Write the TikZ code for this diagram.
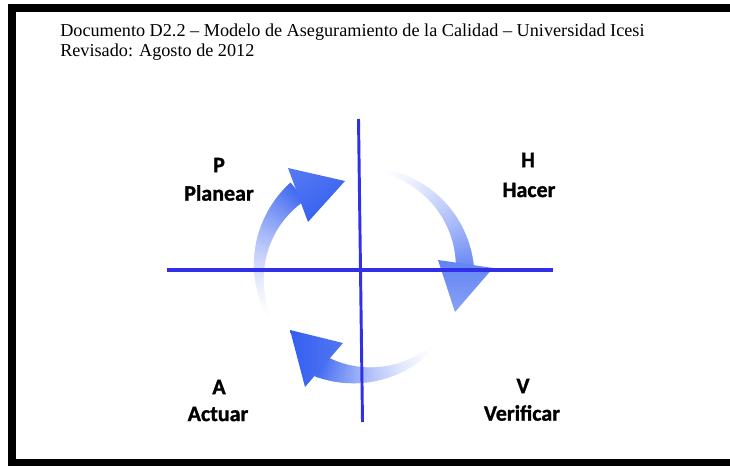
\documentclass[tikz,border=0pt]{standalone}
\usepackage{fontspec}
\setmainfont{Liberation Serif}
\newfontfamily\lblfont{Carlito}[BoldFeatures={FakeBold=1.2}]
\definecolor{arrowblue}{RGB}{52,95,240}
\definecolor{axisblue}{RGB}{48,48,232}
\newcommand\ringband[6]{%
  \foreach \rbI in {0,...,59}{%
    \pgfmathsetmacro\rbT{\rbI/60}%
    \pgfmathsetmacro\rbU{(\rbI+1)/60}%
    \pgfmathsetmacro\rbA{#1+\rbT*(#2-#1)}%
    \pgfmathsetmacro\rbB{#1+\rbU*(#2-#1)+0.4}%
    \pgfmathsetmacro\rbWa{#3+(#4-#3)*\rbT}%
    \pgfmathsetmacro\rbWb{#3+(#4-#3)*\rbU}%
    \pgfmathtruncatemacro\rbP{#5*\rbT*\rbT^(#6-1)+0.001}%
    \fill[arrowblue!\rbP!white]
      ({362+(103+\rbWa/2)*cos(\rbA)},{272+(103+\rbWa/2)*sin(\rbA)}) --
      ({362+(103+\rbWb/2)*cos(\rbB)},{272+(103+\rbWb/2)*sin(\rbB)}) --
      ({362+(103-\rbWb/2)*cos(\rbB)},{272+(103-\rbWb/2)*sin(\rbB)}) --
      ({362+(103-\rbWa/2)*cos(\rbA)},{272+(103-\rbWa/2)*sin(\rbA)}) -- cycle;
  }%
}
\begin{document}
\begin{tikzpicture}[x=0.75pt,y=-0.75pt,
  hdr/.style={font=\fontsize{13.65pt}{15pt}\selectfont, anchor=base west, inner sep=0pt},
  lbl/.style={font=\lblfont\bfseries\fontsize{16.5pt}{18pt}\selectfont, inner sep=0pt},
  axis/.style={draw=axisblue, line width=2.4pt}]
\useasboundingbox (0,0) rectangle (730,466);
\fill[white] (0,0) rectangle (730,466);
% frame
\fill[black] (8,4) rectangle (730,12.5);
\fill[black] (8,4) rectangle (16,466);
\fill[black] (8,459) rectangle (730,466);
% header
\node[hdr] (h1) at (60,37) {Documento D2.2 -- Modelo de Aseguramiento de la Calidad -- Universidad Icesi};
\node[hdr] (h2) at (60,56.5) {Revisado: Agosto de 2012};
% arrows (bodies)
\ringband{150}{231}{2}{23}{95}{1.6}
\ringband{279}{357}{3}{18}{75}{1.4}
\ringband{42}{114}{2}{23}{95}{1.7}
% arrow heads
\shade[left color=arrowblue!85!white, right color=arrowblue, shading angle=30]
  (288,168) -- (345,181) -- (308,222) -- cycle;
\shade[top color=arrowblue!78!white, bottom color=arrowblue!58!white]
  (438,260) -- (493,268) -- (455,312) -- cycle;
\shade[left color=arrowblue, right color=arrowblue!85!white]
  (290,330) -- (343,343) -- (305,387) -- cycle;
% axes
\coordinate (vt) at (358.5,119);
\coordinate (vb) at (362.5,422);
\coordinate (hl) at (167,270);
\coordinate (hr) at (553,270);
\draw[axis, line width=2.2pt] (vt) -- (vb);
\draw[axis, line width=2.7pt] (hl) -- (hr);
% labels
\node[lbl] (p) at (219,165) {P};
\node[lbl] (pl) at (219,193) {Planear};
\node[lbl] (h) at (528,160) {H};
\node[lbl] (hc) at (529,190) {Hacer};
\node[lbl] (a) at (219,387) {A};
\node[lbl] (ac) at (218,414) {Actuar};
\node[lbl] (v) at (523,386) {V};
\node[lbl] (vf) at (522,413) {Verificar};
\end{tikzpicture}
\end{document}
